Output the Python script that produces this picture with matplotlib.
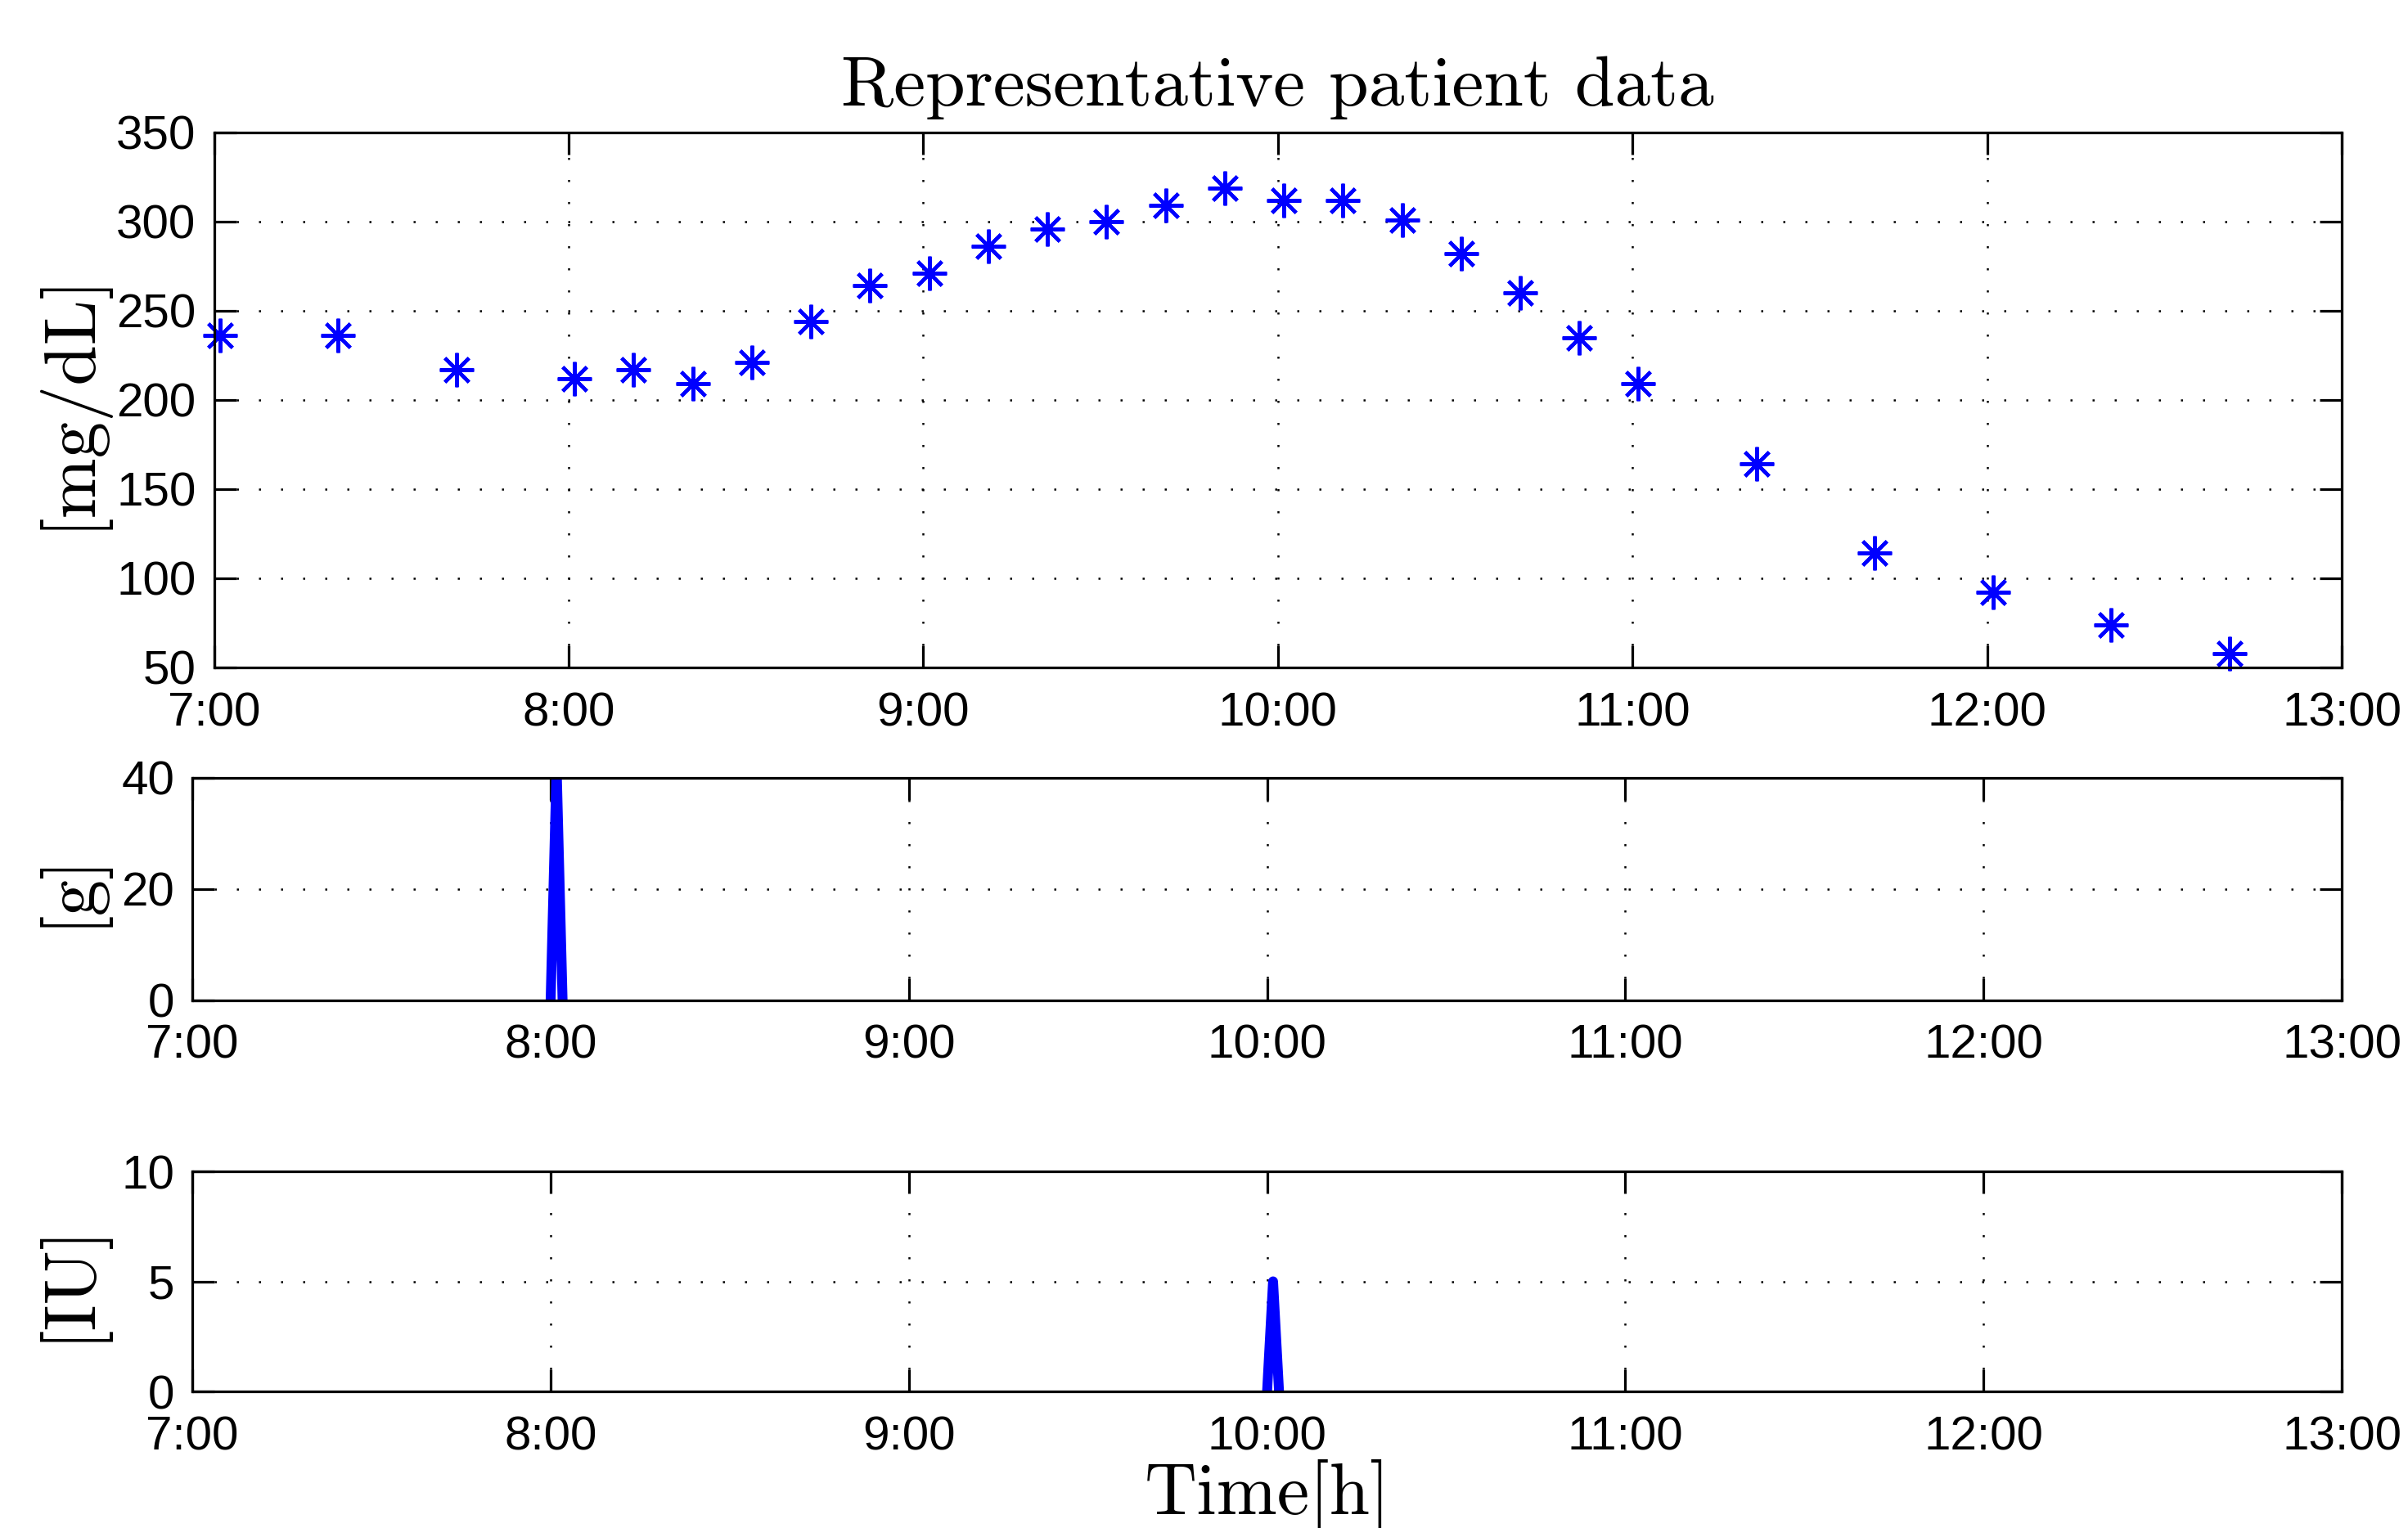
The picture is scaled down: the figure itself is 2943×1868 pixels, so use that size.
import matplotlib
matplotlib.use('Agg')
import matplotlib.pyplot as plt

# ── Data ──────────────────────────────────────────────────────
glucose_time = ['7:01', '7:21', '7:41', '8:01', '8:11', '8:21', '8:31', '8:41',
                '8:51', '9:01', '9:11', '9:21', '9:31', '9:41', '9:51', '10:01',
                '10:11', '10:21', '10:31', '10:41', '10:51', '11:01', '11:21',
                '11:41', '12:01', '12:21', '12:41']
glucose_val = [236, 236, 217, 212, 217, 209, 221, 244, 264, 271, 286, 296, 300,
               309, 319, 312, 312, 301, 282, 260, 235, 209, 164, 114, 92, 74, 58]

carb_time = ['8:00', '8:01', '8:02']
carb_val = [0, 42, 0]

insulin_time = ['10:00', '10:01', '10:02']
insulin_val = [0, 5, 0]

hour_ticks = [7, 8, 9, 10, 11, 12, 13]
hour_labels = ['7:00', '8:00', '9:00', '10:00', '11:00', '12:00', '13:00']


def to_hours(stamps):
    out = []
    for s in stamps:
        h, m = s.split(':')
        out.append(int(h) + int(m) / 60)
    return out


# ── Style ─────────────────────────────────────────────────────
plt.rcParams.update({
    'font.family': 'Liberation Sans',
    'font.size': 14,
    'axes.linewidth': 0.77,
    'xtick.direction': 'in',
    'ytick.direction': 'in',
    'xtick.top': True,
    'ytick.right': True,
    'xtick.major.size': 6.5,
    'ytick.major.size': 6.5,
    'xtick.major.width': 0.77,
    'ytick.major.width': 0.77,
    'xtick.major.pad': 7,
    'ytick.major.pad': 5.3,
})
BLUE = '#0000FF'
CM = 'cmr10'
LABEL_SIZE = 21.3


def style_axes(ax, yticks, ylim):
    ax.set_xlim(7, 13)
    ax.set_xticks(hour_ticks)
    ax.set_xticklabels(hour_labels)
    ax.set_ylim(*ylim)
    ax.set_yticks(yticks)
    ax.grid(True, color='black', linewidth=0.6, linestyle=(0, (1, 9.8)))
    for s in ax.spines.values():
        s.set_zorder(5)


fig = plt.figure(figsize=(2943 / 300, 1868 / 300), dpi=300)

# ── Glucose ───────────────────────────────────────────────────
ax1 = fig.add_axes([0.0889, 0.5632, 0.9725 - 0.0889, 0.3501])
ax1.plot(to_hours(glucose_time), glucose_val, linestyle='none',
         marker=(8, 2, 0), markersize=10, markeredgewidth=1.0,
         color=BLUE, clip_on=False)
style_axes(ax1, [50, 100, 150, 200, 250, 300, 350], (50, 350))
ax1.set_title('Representative patient data', family=CM,
              fontsize=21, pad=8)
ax1.set_ylabel('[mg/dL]', family=CM, fontsize=LABEL_SIZE)

# ── Carbohydrates ─────────────────────────────────────────────
ax2 = fig.add_axes([0.0799, 0.3455, 0.9725 - 0.0799, 0.1456])
ax2.plot(to_hours(carb_time), carb_val, color=BLUE, linewidth=2.9,
         solid_joinstyle='round')
style_axes(ax2, [0, 20, 40], (0, 40))
ax2.set_ylabel('[g]', family=CM, fontsize=LABEL_SIZE)

# ── Insulin ───────────────────────────────────────────────────
ax3 = fig.add_axes([0.0799, 0.0894, 0.9725 - 0.0799, 0.1440])
ax3.plot(to_hours(insulin_time), insulin_val, color=BLUE, linewidth=2.9,
         solid_joinstyle='round')
style_axes(ax3, [0, 5, 10], (0, 10))
ax3.set_ylabel('[IU]', family=CM, fontsize=LABEL_SIZE)
ax3.set_xlabel('Time[h]', family=CM, fontsize=LABEL_SIZE, labelpad=0)

# y labels share one column on the left, centred on each axes
for ax in (ax1, ax2, ax3):
    pos = ax.get_position()
    ax.yaxis.set_label_coords(0.0435, pos.y0 + pos.height / 2,
                              transform=fig.transFigure)

fig.savefig('out.png', dpi=300, facecolor='white')
